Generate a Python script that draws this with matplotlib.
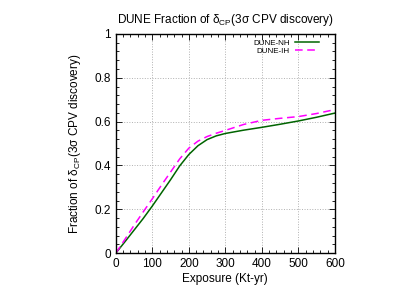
import matplotlib
matplotlib.use("Agg")
import matplotlib.pyplot as plt
from matplotlib.ticker import MultipleLocator, FuncFormatter

plt.rcParams['font.family'] = ['Liberation Sans', 'DejaVu Sans']
plt.rcParams['mathtext.fontset'] = 'custom'
plt.rcParams['mathtext.rm'] = 'Liberation Sans'
plt.rcParams['mathtext.it'] = 'Liberation Sans'

# exposure (kt-yr)
exposure = [0, 25, 50, 75, 100, 125, 150, 175, 200, 225, 250, 275, 300,
            350, 400, 450, 500, 550, 600]
# fraction of delta_CP values with 3 sigma CPV discovery
frac_nh = [0.0, 0.052, 0.105, 0.158, 0.215, 0.275, 0.335, 0.398, 0.450, 0.490,
           0.518, 0.535, 0.546, 0.561, 0.574, 0.588, 0.603, 0.620, 0.639]
frac_ih = [0.0, 0.063, 0.127, 0.188, 0.248, 0.310, 0.370, 0.430, 0.479, 0.511,
           0.532, 0.547, 0.560, 0.587, 0.606, 0.615, 0.623, 0.637, 0.655]

fig = plt.figure(figsize=(4.15, 2.9), dpi=100)
ax = fig.add_axes([0.279, 0.127, 0.528, 0.756])

ax.plot(exposure, frac_nh, color='#006400', lw=1.1, label='DUNE-NH')
ax.plot(exposure, frac_ih, color='#ff00ff', lw=1.1, ls=(0, (5, 3)), label='DUNE-IH')

ax.set_xlim(0, 600)
ax.set_ylim(0, 1)
ax.xaxis.set_major_locator(MultipleLocator(100))
ax.xaxis.set_minor_locator(MultipleLocator(20))
ax.yaxis.set_major_locator(MultipleLocator(0.2))
ax.yaxis.set_minor_locator(MultipleLocator(0.04))
ax.yaxis.set_major_formatter(FuncFormatter(lambda v, p: f"{v:g}"))
ax.tick_params(which='both', direction='in', top=True, right=True, labelsize=8.5)
ax.tick_params(which='major', length=4, width=0.6)
ax.tick_params(which='minor', length=2, width=0.6)
for s in ax.spines.values():
    s.set_linewidth(1.0)
ax.grid(True, which='major', color='#b0b0b0', linestyle=':', linewidth=0.7)

ax.set_title(r'DUNE Fraction of $\mathregular{\delta_{CP}}$(3σ CPV discovery)', fontsize=8.5, pad=8)
ax.set_xlabel('Exposure (Kt-yr)', fontsize=8.5, labelpad=2)
ax.set_ylabel(r'Fraction of $\mathregular{\delta_{CP}}$(3σ CPV discovery)', fontsize=8.5, labelpad=8)

ax.legend(loc='upper right', bbox_to_anchor=(0.955, 1.0), frameon=False, markerfirst=False,
          fontsize=5.8, handlelength=3.0, handletextpad=0.7, labelspacing=0.05,
          borderaxespad=0.3)

fig.savefig('out.png', dpi=100)
